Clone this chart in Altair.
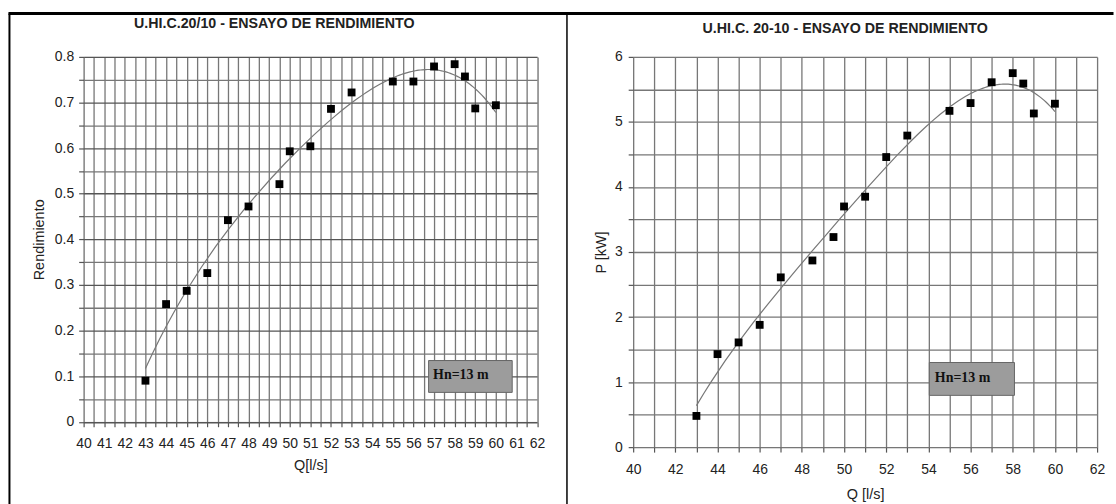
import altair as alt
import pandas as pd

# ---------------- data ----------------
q_left = [43, 44, 45, 46, 47, 48, 49.5, 50, 51, 52, 53, 55, 56, 57, 58, 58.5, 59, 60]
rendimiento = [0.090, 0.258, 0.287, 0.326, 0.442, 0.472, 0.521, 0.593, 0.604,
               0.686, 0.722, 0.746, 0.746, 0.779, 0.784, 0.757, 0.687, 0.694]

q_right = [43, 44, 45, 46, 47, 48.5, 49.5, 50, 51, 52, 53, 55, 56, 57, 58, 58.5, 59, 60]
potencia = [0.48, 1.43, 1.61, 1.88, 2.61, 2.87, 3.23, 3.70, 3.85,
            4.46, 4.79, 5.17, 5.29, 5.61, 5.75, 5.59, 5.13, 5.28]

title_left = "U.HI.C.20/10 - ENSAYO DE RENDIMIENTO"
title_right = "U.HI.C. 20-10 - ENSAYO DE RENDIMIENTO"
note = "Hn=13 m"

x_ticks_left = [40 + 0.5 * i for i in range(45)]      # grid every 0.5 l/s
y_ticks_left = [round(0.05 * i, 2) for i in range(17)]  # grid every 0.05
x_ticks_right = list(range(40, 63))                     # grid every 1 l/s
y_ticks_right = [0.5 * i for i in range(13)]            # grid every 0.5 kW

FONT = "Liberation Sans"
GRID = "#777777"

dfL = pd.DataFrame({"Q": q_left, "R": rendimiento})
dfR = pd.DataFrame({"Q": q_right, "P": potencia})
one = alt.Data(values=[{"k": 1}])


def axis_common(**kw):
    base = dict(grid=True, gridColor=GRID, gridWidth=1.3, tickColor="#555",
                tickSize=5, tickWidth=1.2, domain=False, labelFont=FONT,
                labelFontSize=14, labelColor="#222", labelOverlap=False,
                labelFlush=False, titleFont=FONT, titleFontSize=14.5,
                titleFontWeight="normal", titleColor="#222")
    base.update(kw)
    return alt.Axis(**base)


def title_text(txt, x, y):
    return alt.Chart(one).mark_text(text=txt, font=FONT, fontSize=14.3, fontWeight="bold",
                                    color="#222", align="center", baseline="middle").encode(
        x=alt.value(x), y=alt.value(y))


# ---------------- left panel ----------------
wL, hL = 455.5, 366.5
xL = alt.X("Q:Q", scale=alt.Scale(domain=[40, 62], nice=False, zero=False),
           axis=axis_common(values=x_ticks_left,
                            labelExpr="datum.value % 1 == 0 ? format(datum.value, 'd') : ''",
                            title="Q[l/s]", labelPadding=10, titlePadding=8))
yL = alt.Y("R:Q", scale=alt.Scale(domain=[0, 0.8], nice=False),
           axis=axis_common(values=y_ticks_left, labelPadding=5,
                            labelExpr="round(datum.value*100) % 10 == 0 ? format(datum.value, '~g') : ''",
                            gridColor={"condition": {"test": "round(datum.value*100) % 10 == 0",
                                                     "value": "#555"}, "value": GRID},
                            title="Rendimiento", titlePadding=8))

baseL = alt.Chart(dfL).encode(x=xL, y=yL)
ptsL = baseL.mark_square(size=62, color="black", opacity=1)
curveL = baseL.transform_regression("Q", "R", method="poly", order=4,
                                    extent=[43, 60]).mark_line(color="#777", strokeWidth=1.2)

boxL = alt.Chart(one).mark_rect(fill="#9c9c9c", stroke="#666", strokeWidth=1).encode(
    x=alt.value(346.5), x2=alt.value(430.5), y=alt.value(305), y2=alt.value(337))
txtL = alt.Chart(one).mark_text(text=note, font="Liberation Serif", fontWeight="bold",
                                fontSize=14, align="left", baseline="middle",
                                color="#111").encode(x=alt.value(351), y=alt.value(320))
ttlL = title_text(title_left, 191.5, -33)

# frame lines of the whole figure (drawn from the left panel)
topRule = alt.Chart(one).mark_rule(color="black", strokeWidth=3).encode(
    x=alt.value(-75.5), x2=alt.value(1034.5), y=alt.value(-43.5))
leftRule = alt.Chart(one).mark_rule(color="black", strokeWidth=2).encode(
    x=alt.value(-74.5), y=alt.value(-43.5), y2=alt.value(449))
midRule = alt.Chart(one).mark_rule(color="black", strokeWidth=1.5).encode(
    x=alt.value(485.5), y=alt.value(-43.5), y2=alt.value(449))

left = alt.layer(curveL, ptsL, boxL, txtL, ttlL, topRule, leftRule, midRule).properties(
    width=wL, height=hL)

# ---------------- right panel ----------------
wR, hR = 466, 392
xR = alt.X("Q:Q", scale=alt.Scale(domain=[40, 62], nice=False, zero=False),
           axis=axis_common(values=x_ticks_right,
                            labelExpr="datum.value % 2 == 0 ? format(datum.value, 'd') : ''",
                            title="Q [l/s]", labelPadding=10, titlePadding=12))
yR = alt.Y("P:Q", scale=alt.Scale(domain=[0, 6], nice=False),
           axis=axis_common(values=y_ticks_right, labelPadding=6,
                            labelExpr="datum.value % 1 == 0 ? format(datum.value, 'd') : ''",
                            title="P [kW]", titlePadding=6))

baseR = alt.Chart(dfR).encode(x=xR, y=yR)
ptsR = baseR.mark_square(size=62, color="black", opacity=1)
curveR = baseR.transform_regression("Q", "P", method="poly", order=4,
                                    extent=[43, 60]).mark_line(color="#777", strokeWidth=1.2)
boxR = alt.Chart(one).mark_rect(fill="#9c9c9c", stroke="#666", strokeWidth=1).encode(
    x=alt.value(297.5), x2=alt.value(383), y=alt.value(307), y2=alt.value(340))
txtR = alt.Chart(one).mark_text(text=note, font="Liberation Serif", fontWeight="bold",
                                fontSize=14, align="left", baseline="middle",
                                color="#111").encode(x=alt.value(303), y=alt.value(323))
ttlR = title_text(title_right, 213, -28)

right = alt.layer(curveR, ptsR, boxR, txtR, ttlR).properties(width=wR, height=hR)

chart = alt.hconcat(left, right, spacing=96, bounds="flush").properties(
    padding={"left": 6, "top": 10, "right": 0, "bottom": 0}
).configure_view(stroke="#666", strokeWidth=1.2).configure(background="white")

chart.save("out.html", embed_options={"renderer": "svg", "actions": False})
